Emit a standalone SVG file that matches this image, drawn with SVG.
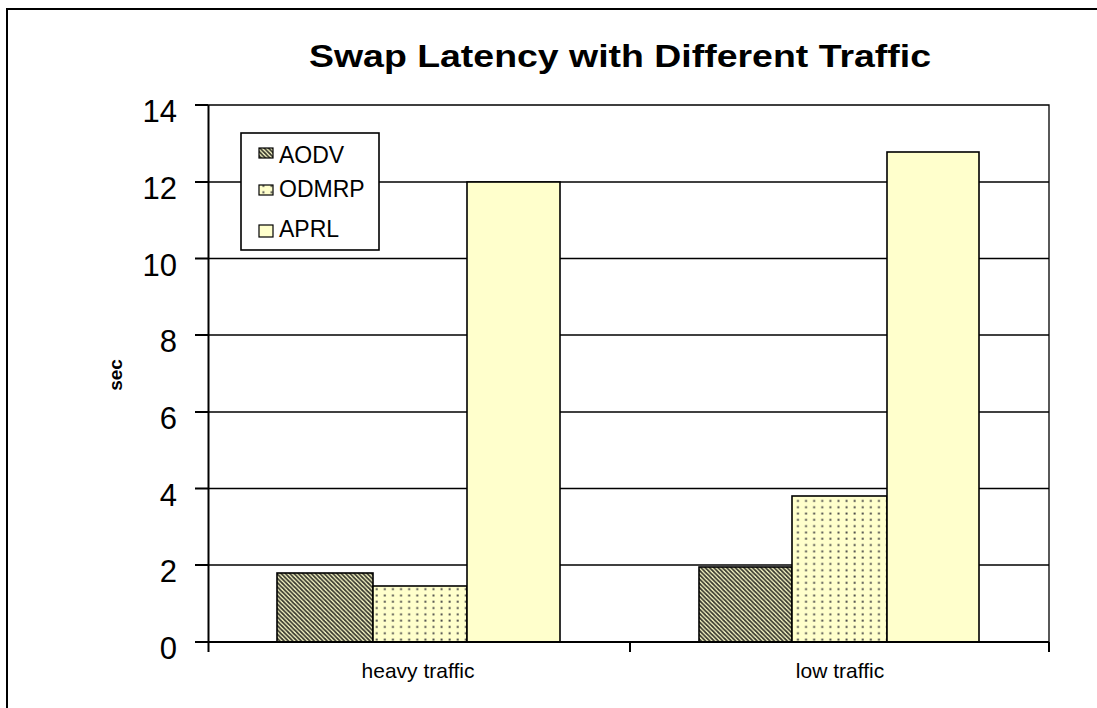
<svg xmlns="http://www.w3.org/2000/svg" width="1097" height="708" viewBox="0 0 1097 708">
<style>
text{font-family:"Liberation Sans",Arial,sans-serif;fill:#000}
.tick{font-size:31px;text-anchor:end}
.cat{font-size:21px;text-anchor:middle}
.leg{font-size:23px}
.grid{stroke:#000;stroke-width:1.3;fill:none}
.axis{stroke:#000;stroke-width:2;fill:none}
.bar{stroke:#000;stroke-width:1.6}
</style>
<defs>
<pattern id="hatch" patternUnits="userSpaceOnUse" width="4.3" height="4.3">
<rect width="4.3" height="4.3" fill="#FFFFCC"/>
<path d="M-1,-1 L5.3,5.3 M-1,3.3 L1,5.3 M3.3,-1 L5.3,1" stroke="#38382e" stroke-width="1.7"/>
</pattern>
<pattern id="dots" patternUnits="userSpaceOnUse" width="8.1" height="6.3">
<rect width="8.1" height="6.3" fill="#FFFFCC"/>
<rect x="3.2" y="2.3" width="1.9" height="1.9" fill="#444"/>
</pattern>
</defs>
<rect width="1097" height="708" fill="#fff"/>
<path d="M7,708 L7,9 L1097,9" fill="none" stroke="#000" stroke-width="2"/>
<text x="620" y="67" font-size="32" font-weight="bold" text-anchor="middle" textLength="622" lengthAdjust="spacingAndGlyphs">Swap Latency with Different Traffic</text>
<g id="gridlines">
<line class="grid" x1="208" y1="182" x2="1049" y2="182"/>
<line class="grid" x1="208" y1="258.5" x2="1049" y2="258.5"/>
<line class="grid" x1="208" y1="335" x2="1049" y2="335"/>
<line class="grid" x1="208" y1="412" x2="1049" y2="412"/>
<line class="grid" x1="208" y1="488.5" x2="1049" y2="488.5"/>
<line class="grid" x1="208" y1="565" x2="1049" y2="565"/>
<path class="grid" d="M208,105 L1049,105 L1049,642"/>
</g>
<g id="bars">
<rect id="heavy-aodv" class="bar" x="277" y="573" width="96" height="69" fill="url(#hatch)"/>
<rect id="heavy-odmrp" class="bar" x="373" y="586" width="94" height="56" fill="url(#dots)"/>
<rect id="heavy-aprl" class="bar" x="467" y="182" width="93" height="460" fill="#FFFFCC"/>
<rect id="low-aodv" class="bar" x="699" y="567" width="93" height="75" fill="url(#hatch)"/>
<rect id="low-odmrp" class="bar" x="792" y="496" width="95" height="146" fill="url(#dots)"/>
<rect id="low-aprl" class="bar" x="887" y="152" width="92" height="490" fill="#FFFFCC"/>
</g>
<g id="axes">
<line class="axis" x1="208.5" y1="105" x2="208.5" y2="642"/>
<line class="axis" x1="208" y1="642" x2="1049" y2="642"/>
<path class="axis" d="M195,105 H208 M195,182 H208 M195,258.5 H208 M195,335 H208 M195,412 H208 M195,488.5 H208 M195,565 H208 M195,642 H208 M208.5,642 V652 M630,642 V652 M1049,642 V652"/>
</g>
<g id="ylabels">
<text class="tick" x="177" y="122">14</text>
<text class="tick" x="177" y="199">12</text>
<text class="tick" x="177" y="275.5">10</text>
<text class="tick" x="177" y="352">8</text>
<text class="tick" x="177" y="429">6</text>
<text class="tick" x="177" y="505.5">4</text>
<text class="tick" x="177" y="582">2</text>
<text class="tick" x="177" y="659">0</text>
</g>
<text transform="translate(122,375) rotate(-90)" font-size="19" font-weight="bold" text-anchor="middle">sec</text>
<g id="xlabels">
<text class="cat" x="418" y="678">heavy traffic</text>
<text class="cat" x="840" y="678">low traffic</text>
</g>
<g id="legend">
<rect x="241" y="133" width="138" height="117" fill="#fff" stroke="#000" stroke-width="1.6"/>
<rect x="259" y="148" width="14" height="10" fill="url(#hatch)" stroke="#000" stroke-width="1.2"/>
<text class="leg" x="279" y="163">AODV</text>
<rect x="259" y="185" width="14" height="10" fill="url(#dots)" stroke="#000" stroke-width="1.2"/>
<text class="leg" x="279" y="197">ODMRP</text>
<rect x="259" y="225" width="14" height="12" fill="#FFFFCC" stroke="#000" stroke-width="1.2"/>
<text class="leg" x="279" y="237">APRL</text>
</g>
</svg>
